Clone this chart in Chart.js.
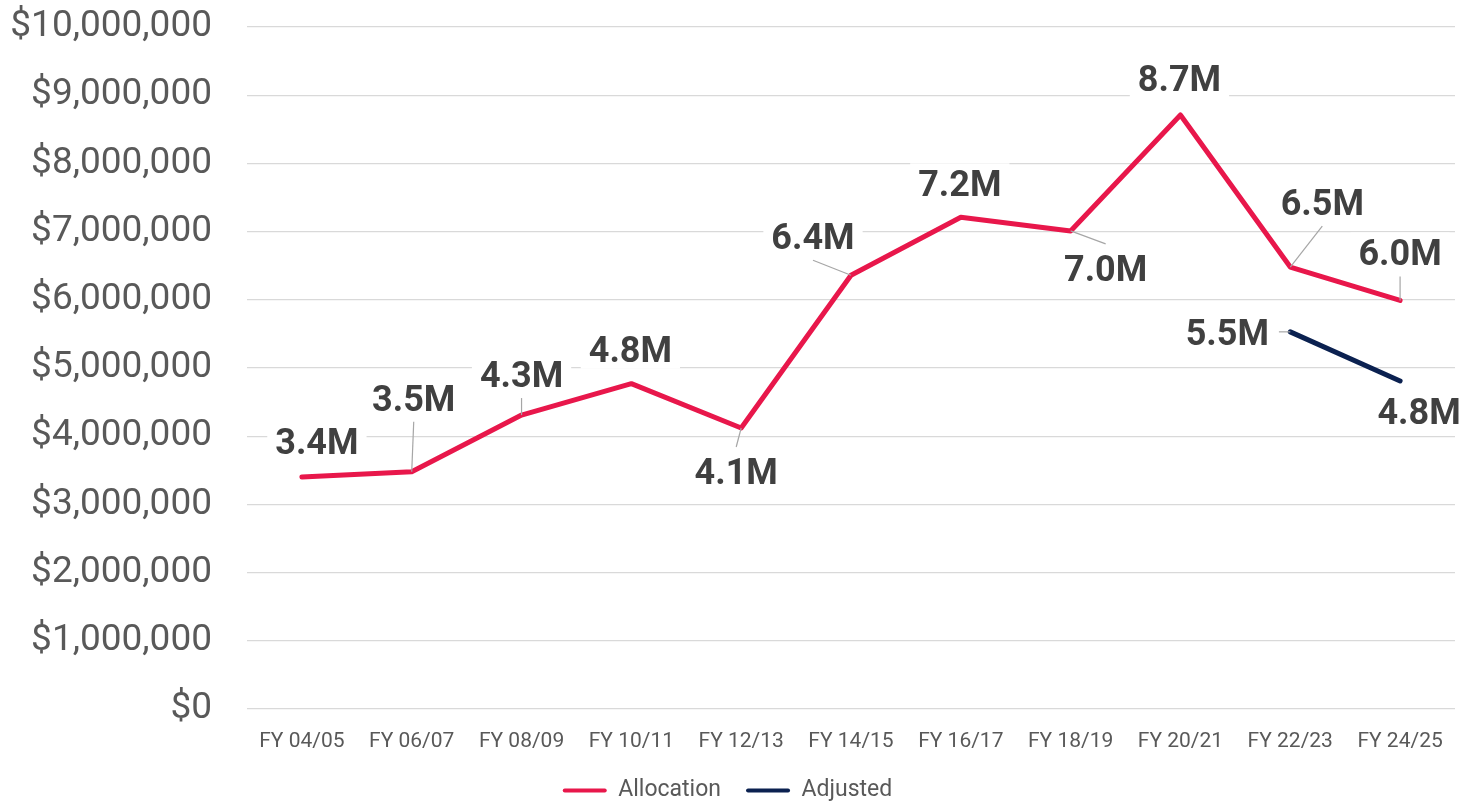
<!DOCTYPE html>
<html>
<head>
<meta charset="utf-8">
<script src="https://cdn.jsdelivr.net/npm/chart.js@4"></script>
<style>
  html, body { margin: 0; padding: 0; background: #fff; }
  #wrap { width: 1479px; height: 804px; }
</style>
</head>
<body>
<div id="wrap"><canvas id="chart"></canvas></div>
<script>
// data
var years = ["FY 04/05", "FY 06/07", "FY 08/09", "FY 10/11", "FY 12/13", "FY 14/15",
             "FY 16/17", "FY 18/19", "FY 20/21", "FY 22/23", "FY 24/25"];
var allocation = [3400000, 3480000, 4310000, 4770000, 4120000, 6360000,
                  7210000, 7010000, 8710000, 6480000, 5990000];
var adjusted = [null, null, null, null, null, null, null, null, null, 5530000, 4810000];
var allocationText = ["3.4M", "3.5M", "4.3M", "4.8M", "4.1M", "6.4M", "7.2M", "7.0M", "8.7M", "6.5M", "6.0M"];
var adjustedText = [null, null, null, null, null, null, null, null, null, "5.5M", "4.8M"];

// label placement (offset from point in px, leader on/off)
var allocationPos = [[15,-36,0],[2,-74,1],[0,-41,1],[-1,-35,0],[-5,43,1],[-38,-39,1],
                     [-1,-34,0],[35,37,1],[-1,-37,0],[32,-65,1],[0,-48,1]];
var adjustedPos = [null,null,null,null,null,null,null,null,null,[-63,0,1],[19,30,0]];

var labelPlugin = {
  id: 'leaderLabels',
  afterDatasetsDraw: function(chart) {
    var ctx = chart.ctx;
    var sets = [[allocationText, allocationPos], [adjustedText, adjustedPos]];
    ctx.save();
    ctx.font = 'bold 36px Roboto';
    sets.forEach(function(s, di) {
      var meta = chart.getDatasetMeta(di);
      meta.data.forEach(function(pt, i) {
        var txt = s[0][i], pos = s[1][i];
        if (!txt || !pos) return;
        var cx = pt.x + pos[0], cy = pt.y + pos[1];
        var w = ctx.measureText(txt).width, h = 26;
        var bx = w / 2 + 8, by = h / 2 + 7;
        ctx.fillStyle = '#ffffff';
        ctx.fillRect(cx - bx, cy - by, bx * 2, by * 2);
        if (pos[2]) {
          var sx, sy;
          if (pt.y > cy + by) { sx = cx; sy = cy + by + 4; }
          else if (pt.y < cy - by) { sx = cx; sy = cy - by - 4; }
          else { sx = pt.x > cx ? cx + bx + 2 : cx - bx - 2; sy = cy; }
          ctx.strokeStyle = '#a6a6a6';
          ctx.lineWidth = 1.2;
          ctx.beginPath();
          ctx.moveTo(sx, sy);
          ctx.lineTo(pt.x, pt.y);
          ctx.stroke();
        }
        ctx.fillStyle = '#404040';
        ctx.textAlign = 'center';
        ctx.textBaseline = 'alphabetic';
        ctx.fillText(txt, cx, cy + h / 2);
      });
    });
    ctx.restore();
  }
};

new Chart(document.getElementById("chart"), {
  type: 'line',
  data: {
    labels: years,
    datasets: [
      {
        label: "Allocation",
        data: allocation,
        borderColor: "#e8174b",
        backgroundColor: "#e8174b",
        borderWidth: 5,
        borderCapStyle: 'round',
        borderJoinStyle: 'round',
        pointRadius: 0,
        tension: 0
      },
      {
        label: "Adjusted",
        data: adjusted,
        borderColor: "#0b2150",
        backgroundColor: "#0b2150",
        borderWidth: 5,
        borderCapStyle: 'round',
        pointRadius: 0,
        tension: 0
      }
    ]
  },
  options: {
    responsive: true,
    maintainAspectRatio: false,
    animation: false,
    layout: { padding: { top: 27, right: 24, left: 0, bottom: 0 } },
    scales: {
      x: {
        offset: true,
        grid: { display: false, drawTicks: false },
        border: { display: false },
        afterFit: function(s) { s.height = 45; },
        ticks: { color: '#595959', font: { family: 'Roboto', size: 21 }, padding: 20, maxRotation: 0 }
      },
      y: {
        min: 0,
        max: 10000000,
        grid: { color: '#d9d9d9', lineWidth: 1.3, drawTicks: true, tickLength: 35, tickColor: 'rgba(0,0,0,0)' },
        border: { display: false },
        afterFit: function(s) { s.width = 247; },
        ticks: {
          stepSize: 1000000,
          padding: 0,
          color: '#595959',
          font: { family: 'Roboto', size: 37 },
          callback: function(v) { return '$' + v.toLocaleString('en-US'); }
        }
      }
    },
    plugins: {
      legend: {
        position: 'bottom',
        maxHeight: 50,
        labels: {
          boxWidth: 44,
          boxHeight: 4,
          padding: 25,
          color: '#595959',
          font: { family: 'Roboto', size: 23 },
          useBorderRadius: true,
          borderRadius: 2,
          generateLabels: function(chart) {
            return Chart.defaults.plugins.legend.labels.generateLabels(chart).map(function(l) {
              l.lineWidth = 0;
              l.fillStyle = l.strokeStyle;
              return l;
            });
          }
        }
      },
      tooltip: { enabled: false }
    }
  },
  plugins: [labelPlugin]
});
</script>
</body>
</html>
